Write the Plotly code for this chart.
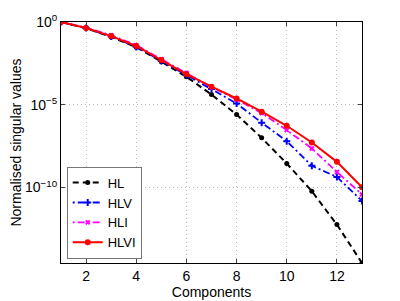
import plotly.graph_objects as go

components = list(range(1, 14))
hl_log = [0, -0.38, -0.9, -1.52, -2.4, -3.31, -4.38, -5.59, -7.0, -8.55, -10.22, -12.24, -14.56]
hlv_log = [0, -0.37, -0.88, -1.5, -2.35, -3.2, -4.05, -4.92, -6.08, -7.2, -8.69, -9.36, -10.81]
hli_log = [0, -0.34, -0.8, -1.4, -2.25, -3.08, -3.93, -4.68, -5.5, -6.53, -7.64, -9.06, -10.42]
hlvi_log = [0, -0.36, -0.85, -1.45, -2.3, -3.15, -3.91, -4.62, -5.42, -6.27, -7.28, -8.45, -9.98]

hl = [10 ** v for v in hl_log]
hlv = [10 ** v for v in hlv_log]
hli = [10 ** v for v in hli_log]
hlvi = [10 ** v for v in hlvi_log]

ytickvals = [1e0, 1e-5, 1e-10]
yticktext = ["10<sup>0</sup>", "10<sup>−5</sup>", "10<sup>−10</sup>"]
xtickvals = [2, 4, 6, 8, 10, 12]

fig = go.Figure()
fig.add_trace(go.Scatter(x=components, y=hl, name="HL", mode="lines+markers",
                         line=dict(color="black", width=2, dash="6px,4px"),
                         marker=dict(symbol="circle", size=5, color="black")))
fig.add_trace(go.Scatter(x=components, y=hlv, name="HLV", mode="lines+markers",
                         line=dict(color="blue", width=1.8, dash="2px,3px,7px,3px"),
                         marker=dict(symbol="cross-thin", size=5, color="blue",
                                     line=dict(color="blue", width=2))))
fig.add_trace(go.Scatter(x=components, y=hli, name="HLI", mode="lines+markers",
                         line=dict(color="magenta", width=1.8, dash="2px,3px,7px,3px"),
                         marker=dict(symbol="x-thin", size=4, color="magenta",
                                     line=dict(color="magenta", width=2))))
fig.add_trace(go.Scatter(x=components, y=hlvi, name="HLVI", mode="lines+markers",
                         line=dict(color="red", width=2),
                         marker=dict(symbol="circle", size=6, color="red")))

fig.update_layout(
    width=392, height=293,
    margin=dict(l=53, r=38, t=14, b=38),
    paper_bgcolor="white", plot_bgcolor="white",
    font=dict(family="Liberation Sans, Arial, sans-serif", size=13, color="black"),
    showlegend=True,
    legend=dict(x=0.019, y=0.018, xanchor="left", yanchor="bottom",
                bgcolor="white", bordercolor="#777", borderwidth=1,
                font=dict(size=13), tracegroupgap=0, itemwidth=30),
)
fig.update_xaxes(range=[1, 13], tickvals=xtickvals, ticks="inside", ticklen=4,
                 showline=True, linecolor="black", linewidth=1, mirror="ticks",
                 showgrid=True, gridcolor="#bbbbbb", griddash="1px,3px", gridwidth=1,
                 zeroline=False, automargin=False,
                 title=dict(text="Components", standoff=2, font=dict(size=14)),
                 tickfont=dict(size=14))
fig.update_yaxes(type="log", range=[-14.56, 0], tickvals=ytickvals, ticktext=yticktext,
                 ticks="inside", ticklen=4,
                 showline=True, linecolor="black", linewidth=1, mirror="ticks",
                 showgrid=True, gridcolor="#bbbbbb", griddash="1px,3px", gridwidth=1,
                 zeroline=False, automargin=False,
                 title=dict(text="Normalised singular values", standoff=12, font=dict(size=14)),
                 tickfont=dict(size=14))

fig.write_html("out.html")
